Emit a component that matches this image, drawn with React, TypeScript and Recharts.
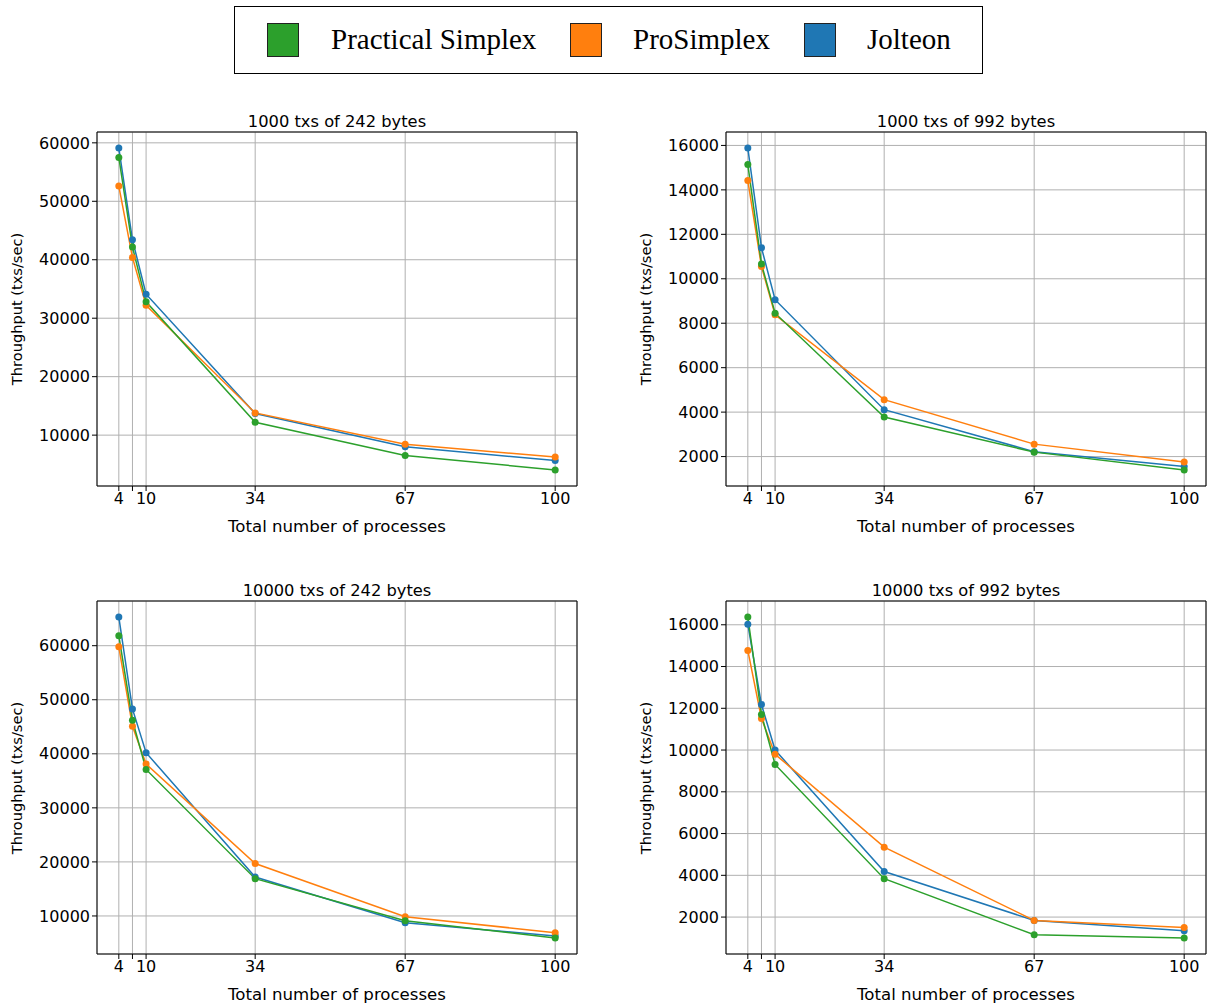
import React from "react";
import {
  LineChart,
  Line,
  XAxis,
  YAxis,
  CartesianGrid,
  ReferenceArea,
} from "recharts";

// number of processes (7 has a gridline but no label)
const procs = [4, 7, 10, 34, 67, 100];
const procTicks = [4, 7, 10, 34, 67, 100];

// 1000 txs of 242 bytes
const practical_1000_242 = [57500, 42200, 32800, 12200, 6500, 4050];
const pro_1000_242 = [52600, 40400, 32200, 13800, 8450, 6250];
const jolteon_1000_242 = [59100, 43400, 34100, 13700, 8000, 5650];

// 1000 txs of 992 bytes
const practical_1000_992 = [15140, 10670, 8450, 3780, 2200, 1400];
const pro_1000_992 = [14420, 10550, 8380, 4560, 2560, 1760];
const jolteon_1000_992 = [15880, 11400, 9060, 4110, 2220, 1550];

// 10000 txs of 242 bytes
const practical_10000_242 = [61850, 46200, 37100, 16900, 9130, 5930];
const pro_10000_242 = [59800, 45100, 38100, 19700, 9870, 6900];
const jolteon_10000_242 = [65300, 48300, 40200, 17200, 8760, 6300];

// 10000 txs of 992 bytes
const practical_10000_992 = [16370, 11700, 9310, 3840, 1150, 1000];
const pro_10000_992 = [14770, 11510, 9800, 5350, 1840, 1500];
const jolteon_10000_992 = [16030, 12180, 10000, 4180, 1840, 1340];

const ticks242 = [10000, 20000, 30000, 40000, 50000, 60000];
const ticks992 = [2000, 4000, 6000, 8000, 10000, 12000, 14000, 16000];

const GREEN = "#2ca02c";
const ORANGE = "#ff7f0e";
const BLUE = "#1f77b4";
const FONT = "'DejaVu Sans', sans-serif";

type PanelProps = {
  title: string;
  practical: number[];
  pro: number[];
  jolteon: number[];
  yTicks: number[];
  plotLeft: number;
  plotTop: number;
  plotHeight: number;
};

const X_LO = -0.8;
const X_HI = 104.8;
const Y_AXIS_W = 90;
const X_AXIS_H = 30;
const PLOT_W = 480;

function Panel(p: PanelProps) {
  const data = procs.map((x, i) => ({
    x,
    practical: p.practical[i],
    pro: p.pro[i],
    jolteon: p.jolteon[i],
  }));
  const all = [...p.practical, ...p.pro, ...p.jolteon];
  const mn = Math.min(...all);
  const mx = Math.max(...all);
  const pad = (mx - mn) * 0.05;
  const yLo = mn - pad;
  const yHi = mx + pad;

  const chartLeft = p.plotLeft - Y_AXIS_W;
  const chartTop = p.plotTop - 10;
  const width = PLOT_W + Y_AXIS_W + 10;
  const height = 10 + p.plotHeight + X_AXIS_H;
  const cx = p.plotLeft + PLOT_W / 2;

  return (
    <>
      <div
        style={{
          position: "absolute",
          left: cx - 200,
          width: 400,
          top: p.plotTop - 19,
          textAlign: "center",
          fontFamily: FONT,
          fontSize: 16.3,
          lineHeight: "18px",
          color: "#000",
          whiteSpace: "nowrap",
        }}
      >
        {p.title}
      </div>
      <div
        style={{
          position: "absolute",
          left: cx - 200,
          width: 400,
          top: p.plotTop + p.plotHeight + 32,
          textAlign: "center",
          fontFamily: FONT,
          fontSize: 16.6,
          lineHeight: "18px",
          color: "#000",
          whiteSpace: "nowrap",
        }}
      >
        Total number of processes
      </div>
      <div
        style={{
          position: "absolute",
          left: p.plotLeft - 80 - 100,
          width: 200,
          top: p.plotTop + p.plotHeight / 2 - 9,
          textAlign: "center",
          fontFamily: FONT,
          fontSize: 14.6,
          lineHeight: "18px",
          color: "#000",
          whiteSpace: "nowrap",
          transform: "rotate(-90deg)",
        }}
      >
        Throughput (txs/sec)
      </div>
      <div style={{ position: "absolute", left: chartLeft, top: chartTop }}>
        <LineChart
          width={width}
          height={height}
          data={data}
          margin={{ top: 10, right: 10, left: 0, bottom: 0 }}
        >
          <CartesianGrid stroke="#b0b0b0" strokeWidth={1} />
          <XAxis
            dataKey="x"
            type="number"
            domain={[X_LO, X_HI]}
            ticks={procTicks}
            allowDataOverflow
            height={X_AXIS_H}
            axisLine={false}
            tickLine={{ stroke: "#000" }}
            tickSize={5}
            tick={{ fill: "#000", fontSize: 16, fontFamily: FONT }}
            tickFormatter={(v: number) => (v === 7 ? "" : String(v))}
          />
          <YAxis
            type="number"
            domain={[yLo, yHi]}
            ticks={p.yTicks}
            allowDataOverflow
            width={Y_AXIS_W}
            axisLine={false}
            tickLine={{ stroke: "#000" }}
            tickSize={5}
            tick={{ fill: "#000", fontSize: 16, fontFamily: FONT }}
          />
          <ReferenceArea
            x1={X_LO}
            x2={X_HI}
            y1={yLo}
            y2={yHi}
            fill="none"
            stroke="#000"
            strokeWidth={1}
            fillOpacity={0}
          />
          <Line
            dataKey="jolteon"
            stroke={BLUE}
            strokeWidth={1.5}
            dot={{ r: 3.5, fill: BLUE, stroke: BLUE, strokeWidth: 0 }}
            activeDot={false}
            isAnimationActive={false}
          />
          <Line
            dataKey="pro"
            stroke={ORANGE}
            strokeWidth={1.5}
            dot={{ r: 3.5, fill: ORANGE, stroke: ORANGE, strokeWidth: 0 }}
            activeDot={false}
            isAnimationActive={false}
          />
          <Line
            dataKey="practical"
            stroke={GREEN}
            strokeWidth={1.5}
            dot={{ r: 3.5, fill: GREEN, stroke: GREEN, strokeWidth: 0 }}
            activeDot={false}
            isAnimationActive={false}
          />
        </LineChart>
      </div>
    </>
  );
}

const legendItems = [
  { label: "Practical Simplex", color: GREEN, swatchX: 32, textX: 96 },
  { label: "ProSimplex", color: ORANGE, swatchX: 335, textX: 398 },
  { label: "Jolteon", color: BLUE, swatchX: 569, textX: 632 },
];

function Legend() {
  return (
    <div
      style={{
        position: "absolute",
        left: 234,
        top: 6,
        width: 749,
        height: 68,
        border: "1px solid #000",
        boxSizing: "border-box",
        fontFamily: "'Liberation Serif', serif",
        fontSize: 29,
        color: "#000",
      }}
    >
      {legendItems.map((it) => (
        <React.Fragment key={it.label}>
          <div
            style={{
              position: "absolute",
              left: it.swatchX,
              top: 16,
              width: 32,
              height: 34,
              background: it.color,
              border: "1px solid #222",
              boxSizing: "border-box",
            }}
          />
          <div
            style={{
              position: "absolute",
              left: it.textX,
              top: 14,
              lineHeight: "36px",
              whiteSpace: "nowrap",
            }}
          >
            {it.label}
          </div>
        </React.Fragment>
      ))}
    </div>
  );
}

export default function App() {
  return (
    <div
      style={{
        position: "absolute",
        left: 0,
        top: 0,
        width: 1210,
        height: 1008,
        background: "#fff",
      }}
    >
      <Legend />
      <Panel
        title="1000 txs of 242 bytes"
        practical={practical_1000_242}
        pro={pro_1000_242}
        jolteon={jolteon_1000_242}
        yTicks={ticks242}
        plotLeft={97}
        plotTop={132}
        plotHeight={354}
      />
      <Panel
        title="1000 txs of 992 bytes"
        practical={practical_1000_992}
        pro={pro_1000_992}
        jolteon={jolteon_1000_992}
        yTicks={ticks992}
        plotLeft={726}
        plotTop={132}
        plotHeight={354}
      />
      <Panel
        title="10000 txs of 242 bytes"
        practical={practical_10000_242}
        pro={pro_10000_242}
        jolteon={jolteon_10000_242}
        yTicks={ticks242}
        plotLeft={97}
        plotTop={601}
        plotHeight={353}
      />
      <Panel
        title="10000 txs of 992 bytes"
        practical={practical_10000_992}
        pro={pro_10000_992}
        jolteon={jolteon_10000_992}
        yTicks={ticks992}
        plotLeft={726}
        plotTop={601}
        plotHeight={353}
      />
    </div>
  );
}
